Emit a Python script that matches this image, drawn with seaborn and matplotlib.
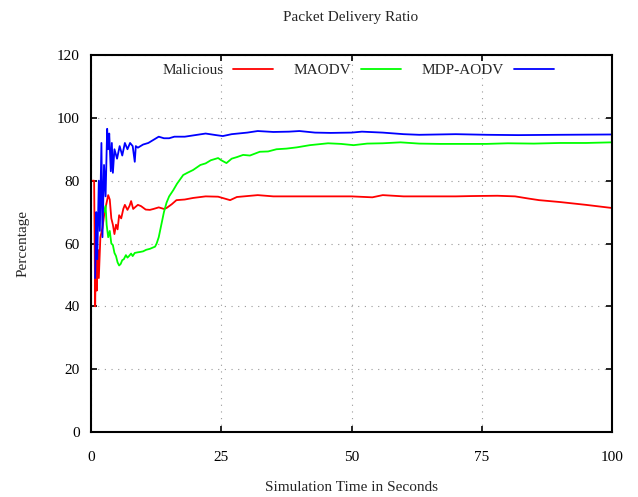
import numpy as np
import pandas as pd
import matplotlib
matplotlib.use("Agg")
import matplotlib.pyplot as plt
import seaborn as sns

# ---- data ----
red_t = [0.3, 0.6, 0.8, 0.95, 1.1, 1.3, 1.5, 1.8, 2.2, 2.6, 3.0, 3.3, 3.6, 3.9, 4.2, 4.5, 4.8,
         5.1, 5.4, 5.8, 6.2, 6.5, 7.0, 7.4, 7.7, 8.1, 8.5, 9.0, 9.6, 10.5, 11.3, 12.0, 13.0,
         14.0, 14.5, 15.5, 16.4, 18.0, 19.6, 22.0, 24.4, 26.7, 28.0, 32.0, 35.0, 40.0, 45.0,
         50.0, 54.0, 56.0, 60.0, 65.0, 70.0, 73.0, 78.0, 81.4, 84.0, 86.0, 90.0, 95.0, 100.0]
red_v = [80, 80, 40, 60, 45, 58, 49, 62, 65, 70, 73, 75.4, 74, 68, 66, 63, 66,
         64.5, 69, 68, 71, 72.3, 70.7, 72, 73.5, 71, 71.6, 72.3, 71.9, 70.8, 70.7, 71, 71.5,
         71, 71.3, 72.5, 73.8, 74, 74.5, 75, 74.9, 73.8, 74.8, 75.4, 75, 75, 75,
         75, 74.7, 75.4, 75, 75, 75, 75.1, 75.2, 75, 74.3, 73.8, 73.2, 72.3, 71.3]

green_t = [2.5, 2.8, 3.0, 3.3, 3.6, 3.9, 4.2, 4.5, 4.8, 5.1, 5.4, 5.7, 6.0, 6.3, 6.7, 7.0,
           7.3, 7.7, 8.0, 8.4, 9.0, 9.4, 10.0, 10.6, 11.3, 12.3, 12.6, 13.0, 13.5, 14.0, 14.5,
           15.0, 15.8, 16.5, 17.7, 18.5, 19.6, 21.0, 22.0, 23.0, 24.4, 25.0, 26.0, 27.0, 28.0,
           29.2, 30.5, 32.4, 34.0, 35.6, 37.5, 39.5, 42.0, 45.5, 48.0, 50.4, 53.0, 56.0, 59.4,
           63.0, 67.0, 72.0, 75.9, 80.0, 85.0, 90.0, 95.0, 100.0]
green_v = [70, 72, 66, 62, 64, 60, 59.5, 57, 56, 54, 53, 53.5, 54.7, 55, 56.3, 55.5,
           56, 56.8, 56, 57, 57.2, 57.3, 57.5, 58, 58.3, 59, 60, 62, 66, 70, 73,
           75, 77, 79, 81.8, 82.5, 83.4, 85, 85.5, 86.5, 87.2, 86.5, 85.6, 87, 87.5,
           88.2, 88, 89.2, 89.3, 90, 90.2, 90.6, 91.3, 91.9, 91.7, 91.3, 91.8, 91.9, 92.2,
           91.8, 91.7, 91.7, 91.7, 91.9, 91.8, 92, 92, 92.2]

blue_t = [0.8, 1.0, 1.2, 1.5, 1.7, 2.0, 2.2, 2.5, 2.8, 3.1, 3.3, 3.5, 3.8, 4.0, 4.2, 4.5,
          5.0, 5.5, 6.0, 6.5, 7.0, 7.5, 8.0, 8.4, 8.6, 9.0, 9.5, 10.0, 11.0, 12.0, 13.0,
          14.0, 15.0, 16.0, 18.0, 20.0, 22.0, 24.0, 25.3, 27.0, 30.0, 32.0, 35.0, 38.0, 40.0,
          43.0, 46.0, 50.0, 52.0, 56.0, 60.0, 63.0, 70.0, 76.0, 82.0, 90.0, 100.0]
blue_v = [49, 70, 55, 80, 64, 92, 62, 85, 75, 96.5, 90, 95, 83, 92, 82.5, 90,
          87, 91, 88, 92, 90, 92, 91, 86, 91, 90.5, 91, 91.5, 92, 93, 94,
          93.5, 93.5, 94, 94, 94.5, 95, 94.5, 94.2, 94.8, 95.3, 95.8, 95.5, 95.6, 95.8,
          95.3, 95.2, 95.3, 95.6, 95.3, 94.8, 94.6, 94.8, 94.6, 94.5, 94.6, 94.7]

labels = ["Malicious", "MAODV", "MDP-AODV"]
colors = {"Malicious": "#ff0000", "MAODV": "#00ff00", "MDP-AODV": "#0000ff"}
x_ticks = [0, 25, 50, 75, 100]
y_ticks = [0, 20, 40, 60, 80, 100, 120]

df = pd.concat([
    pd.DataFrame({"t": red_t, "v": red_v, "series": labels[0]}),
    pd.DataFrame({"t": green_t, "v": green_v, "series": labels[1]}),
    pd.DataFrame({"t": blue_t, "v": blue_v, "series": labels[2]}),
], ignore_index=True)

sns.set_style("ticks")
plt.rcParams["font.family"] = ["Liberation Serif", "DejaVu Serif"]
plt.rcParams["font.size"] = 11

fig = plt.figure(figsize=(6.38, 4.97), dpi=100)
ax = fig.add_axes([91 / 638, 1 - 432 / 497, (612 - 91) / 638, (432 - 55) / 497])

sns.lineplot(data=df, x="t", y="v", hue="series", hue_order=labels, palette=colors,
             estimator=None, sort=False, linewidth=1.3, ax=ax)

ax.set_xlim(0, 100)
ax.set_ylim(0, 120)
ax.set_xticks(x_ticks)
ax.set_yticks(y_ticks)
ax.grid(True, color="#999999", linestyle=(0, (1, 5)), linewidth=0.8)
ax.tick_params(direction="in", length=4, width=1.2, top=True, right=True,
               colors="black", labelsize=11)
ax.tick_params(axis="x", pad=14)
ax.tick_params(axis="y", pad=8)
for s in ax.spines.values():
    s.set_linewidth(1.5)
    s.set_color("black")

ax.set_xlabel("Simulation Time in Seconds", fontsize=11, labelpad=12)
ax.set_ylabel("Percentage", fontsize=11, labelpad=20)
fig.text(351 / 638, 1 - 18 / 497, "Packet Delivery Ratio", ha="center", va="center", fontsize=11)

handles, labs = ax.get_legend_handles_labels()
ax.legend(handles, labs, ncol=3, markerfirst=False, frameon=False,
          loc="center", bbox_to_anchor=((358 - 91) / 521, (432 - 70) / 377),
          handlelength=2.6, columnspacing=1.35, handletextpad=0.65, fontsize=11)

fig.savefig("out.png", dpi=100)
